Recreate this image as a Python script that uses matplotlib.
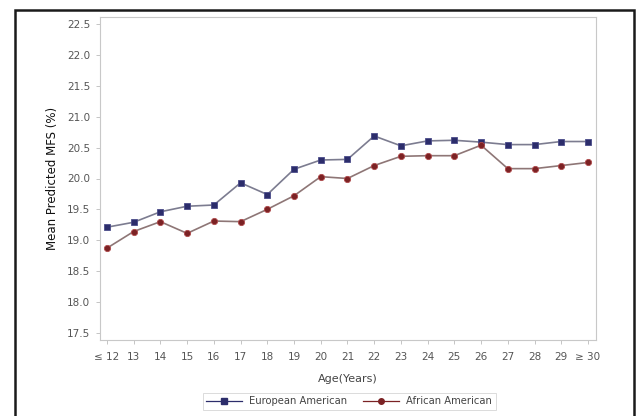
import matplotlib.pyplot as plt
from matplotlib.lines import Line2D
from matplotlib.patches import Rectangle

ages = ['≤ 12', '13', '14', '15', '16', '17', '18', '19', '20', '21',
        '22', '23', '24', '25', '26', '27', '28', '29', '≥ 30']
european = [19.21, 19.29, 19.46, 19.55, 19.57, 19.93, 19.74, 20.15, 20.30, 20.31,
            20.69, 20.53, 20.61, 20.62, 20.59, 20.55, 20.55, 20.60, 20.60]
african = [18.87, 19.14, 19.30, 19.11, 19.31, 19.30, 19.50, 19.72, 20.03, 20.00,
           20.21, 20.36, 20.37, 20.37, 20.54, 20.16, 20.16, 20.21, 20.26]
yticks = [17.5, 18.0, 18.5, 19.0, 19.5, 20.0, 20.5, 21.0, 21.5, 22.0, 22.5]

blue = '#2c2d6b'
red = '#7b2224'

fig = plt.figure(figsize=(6.37, 4.16), dpi=100)
ax = fig.add_axes([100 / 637, 1 - 340 / 416, 496 / 637, 323 / 416])

x = list(range(len(ages)))
ax.plot(x, european, color='#7c7c90', lw=1.2, marker='s', ms=4.5,
        mfc=blue, mec='#4a4c8a', mew=0.6, zorder=3)
ax.plot(x, african, color='#8e7676', lw=1.2, marker='o', ms=4.5,
        mfc=red, mec='#b04a4c', mew=0.6, zorder=3)

ax.set_xlim(-0.26, 18.3)
ax.set_ylim(17.38, 22.62)
ax.set_xticks(x)
ax.set_xticklabels(ages)
ax.set_yticks(yticks)
ax.set_yticklabels([f'{v:.1f}' for v in yticks])
ax.tick_params(labelsize=7.5, colors='#555555', length=3, width=0.6,
               color='#bbbbbb', pad=4)
ax.tick_params(axis='x', pad=6)
for s in ax.spines.values():
    s.set_color('#c8c8c8')
    s.set_linewidth(0.8)

ax.set_xlabel('Age(Years)', fontsize=8, color='#444444', labelpad=8)
ax.set_ylabel('Mean Predicted MFS (%)', fontsize=8.5, color='#111111', labelpad=6)

handles = [Line2D([], [], color=blue, lw=0.9, marker='s', ms=4, mfc=blue, mec=blue),
           Line2D([], [], color=red, lw=0.9, marker='o', ms=4, mfc=red, mec=red)]
leg = fig.legend(handles, ['European American', 'African American'],
                 loc='center', bbox_to_anchor=(349 / 637, 1 - 401 / 416),
                 ncol=2, fontsize=7.2, frameon=True, fancybox=False,
                 handlelength=3.6, columnspacing=1.6, handletextpad=0.7,
                 borderpad=0.35)
leg.get_frame().set_edgecolor('#cccccc')
leg.get_frame().set_linewidth(0.6)
for t in leg.get_texts():
    t.set_color('#444444')

# black outer frame of the screenshot
fig.patches.append(Rectangle((15 / 637, -0.05), 619 / 637, 1.05 - 10 / 416,
                             transform=fig.transFigure, fill=False,
                             edgecolor='#1a1a1a', lw=1.8))

fig.savefig('out.png', dpi=100)
